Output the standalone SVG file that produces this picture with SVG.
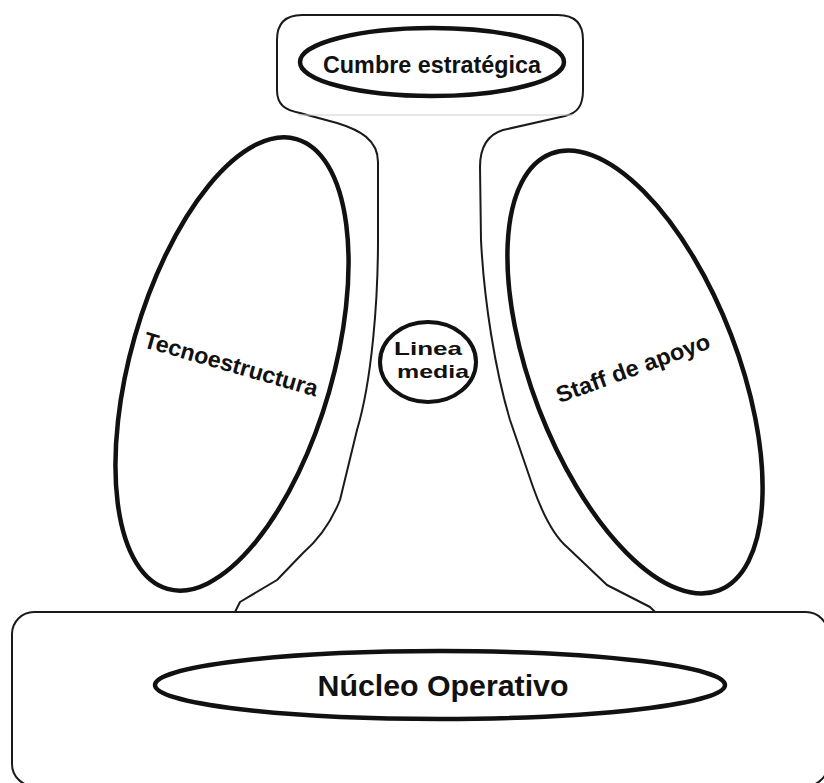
<svg xmlns="http://www.w3.org/2000/svg" width="824" height="783" viewBox="0 0 824 783">
<style>
.outline{fill:none;stroke:#1a1a1a;stroke-width:2;stroke-linejoin:round;stroke-linecap:round}
.faint{fill:none;stroke:#d0d0d0;stroke-width:1.2}
.oval{fill:none;stroke:#111;stroke-width:4.5}
.lbl{font-family:"Liberation Sans",Arial,sans-serif;font-weight:bold;fill:#111;text-anchor:middle}
</style>
<rect width="824" height="783" fill="#fff"/>
<g id="structure">
<rect class="outline" x="12" y="612" width="816" height="174" rx="22" ry="22"/>
<path class="outline" d="M 235,612 L 240,602 L 277,580 L 303,553 C 318,540 330,525 340,500 L 357,430 C 372,380 378,300 378,240 L 378,162 C 378,140 360,130 337,123 L 300,113 C 285,110 277,105 277,90 L 277,40 Q 277,15 302,15 L 558,15 Q 583,15 583,40 L 583,90 C 583,105 578,113 565,116 L 503,130 C 490,134 480,145 480,167 L 481,240 C 484,300 495,370 510,420 L 533,487 C 543,515 553,535 567,547 L 607,585 L 650,607 L 655,612"/>
<line class="faint" x1="298" y1="115" x2="572" y2="115"/>
</g>
<g id="cumbre">
<ellipse class="oval" cx="432" cy="62" rx="132" ry="34"/>
<text class="lbl" x="432" y="73" font-size="23.5" textLength="218" lengthAdjust="spacingAndGlyphs">Cumbre estratégica</text>
</g>
<g id="tecnoestructura">
<ellipse class="oval" cx="232" cy="364" rx="101" ry="234" transform="rotate(16 232 364)"/>
<text class="lbl" font-size="23" transform="translate(231 364) rotate(16)" x="0" y="8" textLength="180" lengthAdjust="spacingAndGlyphs">Tecnoestructura</text>
</g>
<g id="linea-media">
<ellipse class="oval" cx="428" cy="362" rx="48" ry="40" style="stroke-width:4"/>
<text class="lbl" x="428" y="355" font-size="19" textLength="68" lengthAdjust="spacingAndGlyphs">Linea</text>
<text class="lbl" x="433" y="378" font-size="19" textLength="72" lengthAdjust="spacingAndGlyphs">media</text>
</g>
<g id="staff">
<ellipse class="oval" cx="635" cy="372" rx="103" ry="234" transform="rotate(-21 635 372)"/>
<text class="lbl" font-size="23" transform="translate(633 368) rotate(-20)" x="0" y="8" textLength="162" lengthAdjust="spacingAndGlyphs">Staff de apoyo</text>
</g>
<g id="nucleo">
<ellipse class="oval" cx="440" cy="685" rx="285" ry="34"/>
<text class="lbl" x="443" y="696" font-size="30" textLength="251" lengthAdjust="spacingAndGlyphs">Núcleo Operativo</text>
</g>
</svg>
